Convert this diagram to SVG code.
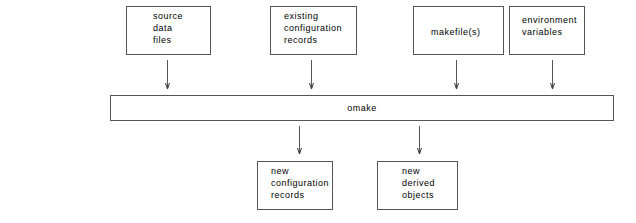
<svg xmlns="http://www.w3.org/2000/svg" width="636" height="223" viewBox="0 0 636 223">
<style>
rect{fill:#fff;stroke:#555;stroke-width:1}
text{font-family:"Liberation Sans",Arial,sans-serif;font-size:9px;letter-spacing:0.5px;fill:#000}
.c line{stroke:#555;stroke-width:1}
.c path{fill:none;stroke:#333;stroke-width:1}
</style>
<rect x="0" y="0" width="636" height="223" style="stroke:none"/>
<g id="source"><rect x="126.5" y="6.5" width="84" height="48"/><text x="153" y="19">source</text><text x="153" y="31">data</text><text x="153" y="43">files</text></g>
<g id="existing"><rect x="270.5" y="6.5" width="86" height="48"/><text x="284" y="19">existing</text><text x="284" y="31">configuration</text><text x="284" y="43">records</text></g>
<g id="makefiles"><rect x="413.5" y="6.5" width="90" height="48"/><text x="431" y="35">makefile(s)</text></g>
<g id="env"><rect x="509.5" y="6.5" width="75" height="48"/><text x="522" y="23">environment</text><text x="522" y="35">variables</text></g>
<g id="omake"><rect x="110.5" y="95.5" width="503" height="25"/><text x="362" y="111" text-anchor="middle">omake</text></g>
<g id="newconf"><rect x="257.5" y="161.5" width="75" height="48"/><text x="271" y="174">new</text><text x="271" y="186">configuration</text><text x="271" y="198">records</text></g>
<g id="newobj"><rect x="377.5" y="161.5" width="80" height="48"/><text x="402" y="174">new</text><text x="402" y="186">derived</text><text x="402" y="198">objects</text></g>
<g class="c">
<line x1="167.5" y1="60" x2="167.5" y2="89"/><path d="M165.5 83 L167.5 89 L169.5 83"/>
<line x1="311.5" y1="60" x2="311.5" y2="89"/><path d="M309.5 83 L311.5 89 L313.5 83"/>
<line x1="456.5" y1="60" x2="456.5" y2="89"/><path d="M454.5 83 L456.5 89 L458.5 83"/>
<line x1="552.5" y1="60" x2="552.5" y2="89"/><path d="M550.5 83 L552.5 89 L554.5 83"/>
<line x1="299.5" y1="126" x2="299.5" y2="154"/><path d="M297.5 148 L299.5 154 L301.5 148"/>
<line x1="419.5" y1="126" x2="419.5" y2="154"/><path d="M417.5 148 L419.5 154 L421.5 148"/>
</g>
</svg>
